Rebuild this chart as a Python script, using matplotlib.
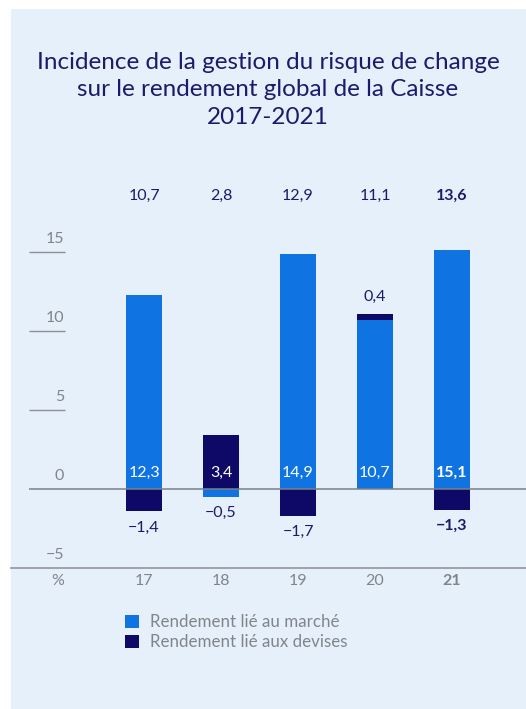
import matplotlib
matplotlib.use('Agg')
import matplotlib.pyplot as plt
from matplotlib.patches import Rectangle

plt.rcParams['font.family'] = ['Lato', 'DejaVu Sans']

# Caisse returns by year, in %
years = ['17', '18', '19', '20', '21']
market = [12.3, -0.5, 14.9, 10.7, 15.1]
currency = [-1.4, 3.4, -1.7, 0.4, -1.3]
total = [10.7, 2.8, 12.9, 11.1, 13.6]
yticks = [-5, 0, 5, 10, 15]

BLUE = '#0f74e2'
NAVY = '#0e0866'
TEXT_NAVY = '#1c1a6c'
GREY = '#80858b'
PANEL = '#e6f0fa'

W, H = 526, 709
fig = plt.figure(figsize=(W / 100, H / 100), dpi=100)
fig.patch.set_facecolor('white')
fig.patches.append(Rectangle((11 / W, 0), 1 - 11 / W, (H - 9) / H,
                             transform=fig.transFigure, facecolor=PANEL,
                             edgecolor='none', zorder=-10))


def fx(px):
    return px / W


def fy(py):
    return 1 - py / H


# axes: y from -5 (px 568) to 17, 15.8 px per unit
ymin, ymax = -5, 17
ppu = 15.8
ax_h = (ymax - ymin) * ppu
ax = fig.add_axes([fx(11), fy(568), 1 - fx(11), ax_h / H])
ax.set_facecolor('none')
step = 77
x0 = 144
ax.set_xlim((11 - x0) / step, (W - x0) / step)
ax.set_ylim(ymin, ymax)
for s in ['top', 'right', 'left']:
    ax.spines[s].set_visible(False)
ax.spines['bottom'].set_color('#9a9ea3')
ax.spines['bottom'].set_linewidth(1.3)
ax.set_xticks([])
ax.set_yticks([])

xs = list(range(len(years)))
bw = 36 / step

# stacked bars: each series starts at 0 unless both are positive
for i in xs:
    m, c = market[i], currency[i]
    ax.bar(i, m, bw, color=BLUE, zorder=2)
    c_base = m if (m > 0 and c > 0) else 0
    ax.bar(i, c, bw, bottom=c_base, color=NAVY, zorder=2)

# grid ticks on the left and the zero line
tick_l, tick_r = (29 - x0) / step, (65 - x0) / step
for v in yticks:
    if v in (5, 10, 15):
        ax.hlines(v, tick_l, tick_r, color='#8c9096', lw=1.0)
    if v == 0:
        ax.hlines(0, tick_l, ax.get_xlim()[1], color='#7c8086', lw=1.1, zorder=3)
    ax.text(tick_r - 0.01, v + 0.4, str(v).replace('-', '\u2212'),
            ha='right', va='bottom', color=GREY, fontsize=11.5)


def fmt(v):
    return f'{v:.1f}'.replace('.', ',').replace('-', '\u2212')


pad = 0.6
fs = 11.5
for i in xs:
    bold = 'bold' if i == len(years) - 1 else 'normal'
    m, c = market[i], currency[i]
    # label for the positive segment sitting on the zero line
    if m > 0:
        ax.text(i, pad, fmt(m), ha='center', va='bottom', color='white',
                fontsize=fs, fontweight=bold, zorder=4)
    else:
        ax.text(i, m - pad, fmt(m), ha='center', va='top', color=TEXT_NAVY,
                fontsize=fs, fontweight=bold)
    if c < 0:
        ax.text(i, c - pad, fmt(c), ha='center', va='top', color=TEXT_NAVY,
                fontsize=fs, fontweight=bold)
    elif m > 0:
        ax.text(i, m + c + pad, fmt(c), ha='center', va='bottom',
                color=TEXT_NAVY, fontsize=fs, fontweight=bold)
    else:
        ax.text(i, pad, fmt(c), ha='center', va='bottom', color='white',
                fontsize=fs, fontweight=bold, zorder=4)
    # total return row
    ax.text(i, (489 - 196) / ppu, fmt(total[i]), ha='center', va='center',
            color=TEXT_NAVY, fontsize=fs, fontweight=bold)
    # year labels
    ax.text(i, (489 - 581) / ppu, years[i], ha='center', va='center',
            color=GREY, fontsize=fs, fontweight=bold)

ax.text((58 - x0) / step, (489 - 581) / ppu, '%', ha='center', va='center',
        color=GREY, fontsize=fs)

fig.text(fx(268), fy(90),
         'Incidence de la gestion du risque de change\n'
         'sur le rendement global de la Caisse\n2017-2021',
         ha='center', va='center', color=TEXT_NAVY, fontsize=17.5,
         linespacing=1.4)

# legend
for k, (lab, col) in enumerate([('Rendement lié au marché', BLUE),
                                ('Rendement lié aux devises', NAVY)]):
    top = 615 + 20 * k
    fig.patches.append(Rectangle((fx(125), fy(top + 13)), 14 / W, 13 / H,
                                 transform=fig.transFigure, facecolor=col,
                                 edgecolor='none'))
    fig.text(fx(150), fy(top + 7), lab, ha='left', va='center',
             color=GREY, fontsize=12.2)

fig.savefig('out.png', dpi=100, facecolor=fig.get_facecolor())
